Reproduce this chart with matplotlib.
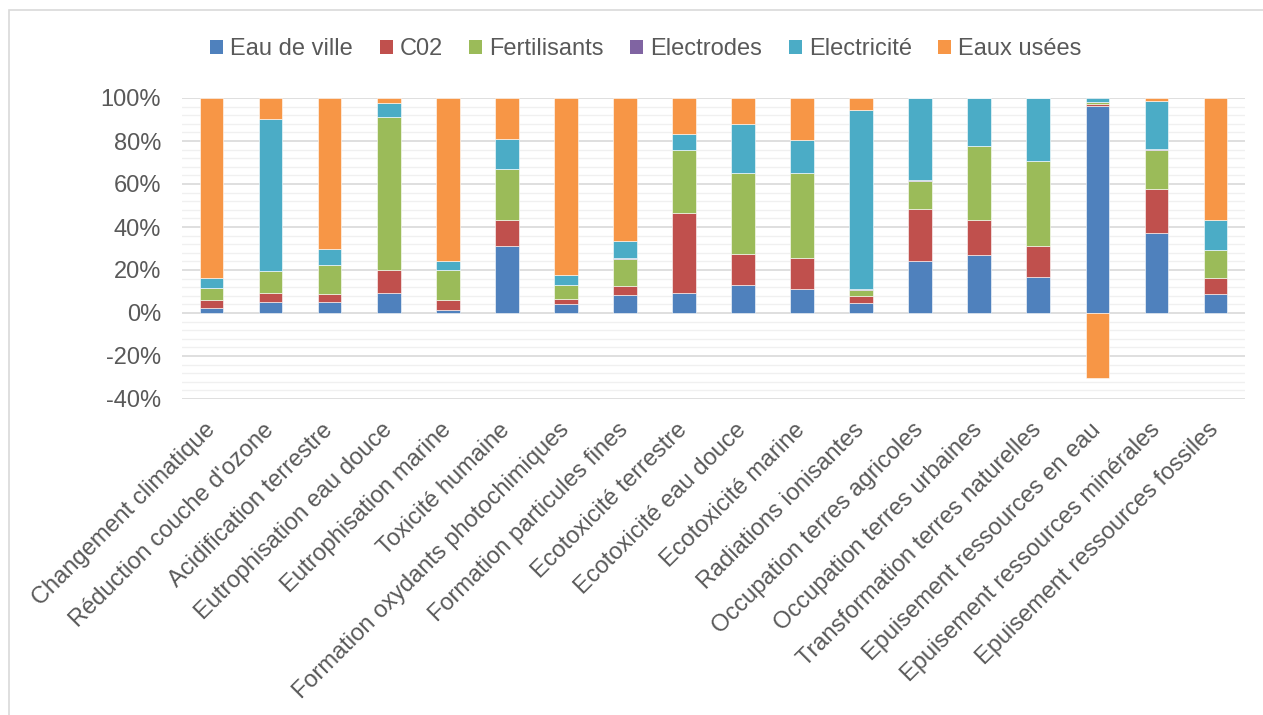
import matplotlib
matplotlib.use("Agg")
import matplotlib.pyplot as plt
import numpy as np
from matplotlib.patches import Patch, Rectangle
from matplotlib.ticker import FuncFormatter, MultipleLocator

plt.rcParams["font.family"] = ["Liberation Sans", "DejaVu Sans"]

categories = [
    "Changement climatique", "Réduction couche d'ozone", "Acidification terrestre",
    "Eutrophisation eau douce", "Eutrophisation marine", "Toxicité humaine",
    "Formation oxydants photochimiques", "Formation particules fines",
    "Ecotoxicité terrestre", "Ecotoxicité eau douce", "Ecotoxicité marine",
    "Radiations ionisantes", "Occupation terres agricoles",
    "Occupation terres urbaines", "Transformation terres naturelles",
    "Epuisement ressources en eau", "Epuisement ressources minérales",
    "Epuisement ressources fossiles",
]

# contributions in percent
eau_de_ville = [2.5, 5.1, 5.3, 9.2, 1.4, 31.3, 4.2, 8.2, 9.2, 12.9, 11.2, 4.7, 24.1, 26.9, 16.8, 96.4, 37.2, 8.9]
co2 = [3.7, 4.1, 3.7, 10.9, 4.5, 11.9, 2.5, 4.2, 37.5, 14.6, 14.6, 3.1, 24.4, 16.3, 14.5, 0.8, 20.5, 7.3]
fertilisants = [5.3, 10.2, 13.2, 70.9, 14.2, 23.8, 6.1, 12.8, 28.9, 37.5, 39.2, 3.1, 13.1, 34.4, 39.2, 0.8, 18.3, 13.2]
electrodes = [0.1, 0.1, 0.1, 0.1, 0.1, 0.2, 0.1, 0.2, 0.2, 0.2, 0.2, 0.1, 0.2, 0.3, 0.4, 0.1, 0.5, 0.1]
electricite = [4.6, 70.9, 7.6, 6.6, 4.2, 13.8, 4.8, 8.0, 7.6, 22.8, 15.4, 83.6, 38.2, 22.1, 29.1, 1.9, 22.3, 13.7]
eaux_usees = [83.8, 9.6, 70.1, 2.3, 75.6, 19.0, 82.3, 66.6, 16.6, 12.0, 19.4, 5.4, 0.0, 0.0, 0.0, -30.3, 1.2, 56.8]

series_names = ["Eau de ville", "C02", "Fertilisants", "Electrodes", "Electricité", "Eaux usées"]
series_values = [eau_de_ville, co2, fertilisants, electrodes, electricite, eaux_usees]
colors = ["#4F81BD", "#C0504D", "#9BBB59", "#8064A2", "#4BACC6", "#F79646"]

FS = 17

W, H = 1263, 715
fig = plt.figure(figsize=(W / 100, H / 100), dpi=100)
fig.patch.set_facecolor("white")

# chart frame
fig.add_artist(Rectangle((9 / W, -0.1), 1.2, 1 - 10 / H + 0.1, transform=fig.transFigure,
                         fill=False, edgecolor="#D9D9D9", linewidth=1.2))

ax = fig.add_axes([182 / W, 1 - 399 / H, (1245 - 182) / W, (399 - 98) / H])

x = np.arange(len(categories))
pos_bottom = np.zeros(len(categories))
neg_bottom = np.zeros(len(categories))
for name, vals, col in zip(series_names, series_values, colors):
    v = np.array(vals, dtype=float)
    bottoms = np.where(v >= 0, pos_bottom, neg_bottom)
    ax.bar(x, v, bottom=bottoms, width=0.4, color=col, edgecolor="white",
           linewidth=0.4, label=name, zorder=3)
    pos_bottom += np.where(v >= 0, v, 0)
    neg_bottom += np.where(v < 0, v, 0)

ax.set_xlim(-0.5, len(categories) - 0.5)
ax.set_ylim(-40, 100)
ax.yaxis.set_major_locator(MultipleLocator(20))
ax.yaxis.set_minor_locator(MultipleLocator(4))
ax.yaxis.set_major_formatter(FuncFormatter(lambda v, p: f"{v:.0f}%"))
ax.grid(axis="y", which="major", color="#D9D9D9", linewidth=1.2, zorder=0)
ax.grid(axis="y", which="minor", color="#F0F0F0", linewidth=1.0, zorder=0)
ax.set_axisbelow(True)
for s in ax.spines.values():
    s.set_visible(False)
ax.tick_params(axis="y", which="both", length=0, pad=15, labelsize=FS, labelcolor="#595959")
ax.tick_params(axis="x", length=0, pad=20)
ax.set_xticks(x)
ax.set_xticklabels(categories, rotation=45, ha="right", va="center",
                   rotation_mode="anchor", fontsize=FS, color="#595959")

handles = [Patch(facecolor=c, edgecolor="none") for c in colors]
fig.legend(handles, series_names, loc="center", bbox_to_anchor=(646 / W, 1 - 49 / H),
           ncol=6, frameon=False, fontsize=FS, handlelength=0.55, handleheight=0.55,
           handletextpad=0.3, columnspacing=1.12, labelcolor="#595959")

fig.savefig("out.png", dpi=100, facecolor="white")
